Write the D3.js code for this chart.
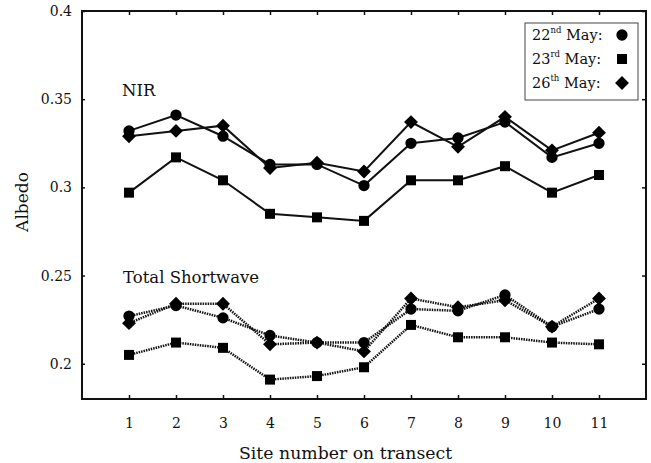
<!DOCTYPE html>
<html>
<head>
<meta charset="utf-8">
<script src="https://cdn.jsdelivr.net/npm/d3@7"></script>
<style>
  body { margin: 0; background: #fff; }
  text { font-family: "DejaVu Serif", serif; fill: #111; }
</style>
</head>
<body>
<script>
var sites = [1, 2, 3, 4, 5, 6, 7, 8, 9, 10, 11];
var yTicks = [0.2, 0.25, 0.3, 0.35, 0.4];

// NIR albedo
var nir22 = [0.332, 0.341, 0.329, 0.313, 0.313, 0.301, 0.325, 0.328, 0.337, 0.317, 0.325];
var nir23 = [0.297, 0.317, 0.304, 0.285, 0.283, 0.281, 0.304, 0.304, 0.312, 0.297, 0.307];
var nir26 = [0.329, 0.332, 0.335, 0.311, 0.314, 0.309, 0.337, 0.323, 0.340, 0.321, 0.331];
// total shortwave albedo
var sw22 = [0.227, 0.233, 0.226, 0.216, 0.212, 0.212, 0.231, 0.230, 0.239, 0.221, 0.231];
var sw23 = [0.205, 0.212, 0.209, 0.191, 0.193, 0.198, 0.222, 0.215, 0.215, 0.212, 0.211];
var sw26 = [0.223, 0.234, 0.234, 0.211, 0.212, 0.207, 0.237, 0.232, 0.236, 0.221, 0.237];

var width = 651, height = 463;
var plot = { left: 82, right: 646, top: 11, bottom: 399 };

var svg = d3.select('body').append('svg')
  .attr('width', width)
  .attr('height', height);

var x = d3.scaleLinear().domain([0, 12]).range([plot.left, plot.right]);
var y = d3.scaleLinear().domain([0.18, 0.4]).range([plot.bottom, plot.top]);

// axes, ticks pointing inwards on all four sides
function styleAxis(g) {
  g.select('.domain').remove();
  g.selectAll('.tick line').attr('stroke', '#111').attr('stroke-width', 1.5);
  g.selectAll('.tick text').attr('font-size', 14);
}
svg.append('g')
  .attr('transform', 'translate(0,' + plot.bottom + ')')
  .call(d3.axisBottom(x).tickValues(sites).tickFormat(d3.format('d')).tickSizeInner(-4).tickPadding(19))
  .call(styleAxis);
svg.append('g')
  .attr('transform', 'translate(0,' + plot.top + ')')
  .call(d3.axisTop(x).tickValues(sites).tickFormat('').tickSizeInner(-4))
  .call(styleAxis);
svg.append('g')
  .attr('transform', 'translate(' + plot.left + ',0)')
  .call(d3.axisLeft(y).tickValues(yTicks).tickFormat(d3.format('')).tickSizeInner(-3).tickPadding(10))
  .call(styleAxis);
svg.append('g')
  .attr('transform', 'translate(' + plot.right + ',0)')
  .call(d3.axisRight(y).tickValues(yTicks).tickFormat('').tickSizeInner(-4))
  .call(styleAxis);

svg.append('rect')
  .attr('x', plot.left).attr('y', plot.top)
  .attr('width', plot.right - plot.left).attr('height', plot.bottom - plot.top)
  .attr('fill', 'none').attr('stroke', '#111').attr('stroke-width', 2);

// series
var line = d3.line()
  .x(function(d, i) { return x(sites[i]); })
  .y(function(d) { return y(d); });

var circle = d3.symbol().type(d3.symbolCircle).size(100);
var square = d3.symbol().type(d3.symbolSquare).size(100);
var diamond = d3.symbol().type(d3.symbolSquare).size(96);

var series = [
  { values: nir22, sym: circle, rot: 0, dash: null },
  { values: nir23, sym: square, rot: 0, dash: null },
  { values: nir26, sym: diamond, rot: 45, dash: null },
  { values: sw22, sym: circle, rot: 0, dash: '1.5,1' },
  { values: sw23, sym: square, rot: 0, dash: '1.5,1' },
  { values: sw26, sym: diamond, rot: 45, dash: '1.5,1' }
];

series.forEach(function(s) {
  svg.append('path')
    .attr('d', line(s.values))
    .attr('fill', 'none')
    .attr('stroke', '#111')
    .attr('stroke-width', s.dash ? 2.5 : 2)
    .attr('stroke-dasharray', s.dash);
  svg.append('g').selectAll('path')
    .data(s.values)
    .enter()
    .append('path')
    .attr('d', s.sym)
    .attr('transform', function(d, i) {
      return 'translate(' + x(sites[i]) + ',' + y(d) + ') rotate(' + s.rot + ')';
    })
    .attr('fill', '#000');
});

// labels
svg.append('text').attr('x', 122).attr('y', 96).attr('font-size', 16.5).text('NIR');
svg.append('text').attr('x', 123).attr('y', 283).attr('font-size', 16.5).text('Total Shortwave');

svg.append('text')
  .attr('x', 239).attr('y', 459)
  .attr('font-size', 17.3)
  .text('Site number on transect');
svg.append('text')
  .attr('transform', 'translate(28,202) rotate(-90)')
  .attr('text-anchor', 'middle').attr('font-size', 17)
  .text('Albedo');

// legend
var legendDays = [['22', 'nd'], ['23', 'rd'], ['26', 'th']];
var legendSyms = [circle, square, diamond];
var legendRot = [0, 0, 45];
var lg = svg.append('g');
lg.append('rect')
  .attr('x', 525).attr('y', 23).attr('width', 113).attr('height', 77)
  .attr('fill', '#fff').attr('stroke', '#444').attr('stroke-width', 1);
legendDays.forEach(function(d, i) {
  var ty = 40 + i * 24;
  var t = lg.append('text').attr('x', 532).attr('y', ty).attr('font-size', 14.5);
  t.append('tspan').text(d[0]);
  t.append('tspan').attr('font-size', 8.5).attr('dy', -7).text(d[1]);
  t.append('tspan').attr('dy', 7).text(' May:');
  lg.append('path')
    .attr('d', legendSyms[i])
    .attr('transform', 'translate(622,' + (ty - 5) + ') rotate(' + legendRot[i] + ')')
    .attr('fill', '#000');
});
</script>
</body>
</html>
